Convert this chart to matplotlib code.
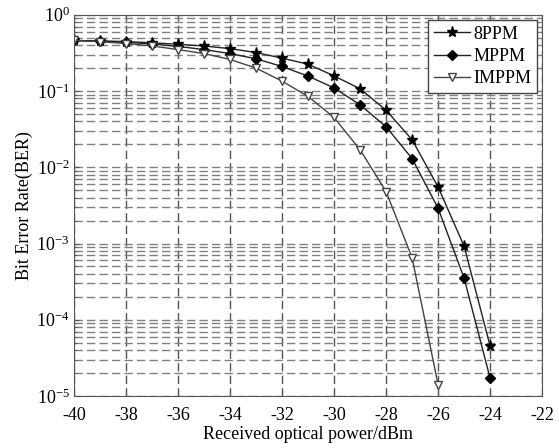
import numpy as np
import matplotlib
matplotlib.use("Agg")
import matplotlib.pyplot as plt
from matplotlib.ticker import LogLocator, NullFormatter

plt.rcParams['font.family'] = ['Liberation Serif', 'DejaVu Serif']
plt.rcParams['mathtext.fontset'] = 'stix'
plt.rcParams['axes.unicode_minus'] = False

# received optical power (dBm)
x_8ppm = list(range(-40, -23))
x_mppm = list(range(-40, -23))
x_imppm = list(range(-40, -25))

ber_8ppm = [0.46, 0.455, 0.445, 0.43, 0.41, 0.39, 0.36, 0.32, 0.27, 0.225,
            0.158, 0.107, 0.056, 0.023, 0.0055, 9.2e-4, 4.5e-5]
ber_mppm = [0.46, 0.45, 0.435, 0.415, 0.385, 0.35, 0.31, 0.265, 0.21, 0.157,
            0.11, 0.066, 0.034, 0.013, 0.0029, 3.5e-4, 1.7e-5]
ber_imppm = [0.46, 0.445, 0.42, 0.39, 0.35, 0.31, 0.26, 0.2, 0.135, 0.085,
             0.045, 0.017, 0.0048, 6.5e-4, 1.4e-5]

fig = plt.figure(figsize=(5.59, 4.48), dpi=100)
ax = fig.add_axes([0.132, 0.116, 0.838, 0.851])

ax.semilogy(x_8ppm, ber_8ppm, '-*', color='#222222', lw=1.0,
            ms=8, mfc='black', mec='black', label='8PPM')
ax.semilogy(x_mppm, ber_mppm, '-D', color='#222222', lw=1.0,
            ms=5, mfc='black', mec='black', label='MPPM')
ax.semilogy(x_imppm, ber_imppm, '-v', color='#444444', lw=1.0,
            ms=6, mfc='white', mec='#444444', label='IMPPM')

ax.set_xlim(-40, -22)
ax.set_ylim(1e-5, 1)
ax.set_xticks(range(-40, -21, 2))
ax.yaxis.set_major_locator(LogLocator(base=10, numticks=10))
ax.yaxis.set_minor_locator(LogLocator(base=10, subs=np.arange(2, 10), numticks=10))
ax.yaxis.set_minor_formatter(NullFormatter())

ax.grid(True, which='major', axis='x', ls=(0, (6, 3)), color='#555555', lw=1.0)
ax.grid(True, which='both', axis='y', ls=(0, (6, 3)), color='#808080', lw=1.0)

for s in ax.spines.values():
    s.set_color('#555555')
ax.tick_params(labelsize=13, direction='in', color='#555555')
ax.tick_params(axis='x', pad=8)
ax.tick_params(axis='y', pad=3)
ax.tick_params(which='minor', direction='in', color='#555555')

ax.set_xlabel('Received optical power/dBm', fontsize=13, labelpad=1)
ax.set_ylabel('Bit Error Rate(BER)', fontsize=13, labelpad=2)

leg = ax.legend(loc='upper right', fontsize=13, fancybox=False, framealpha=1,
                edgecolor='#444444', handlelength=2.0, borderpad=0.3,
                labelspacing=0.3, handletextpad=0.2, borderaxespad=0.3)
leg.get_frame().set_linewidth(1.0)

fig.savefig('out.png', dpi=100)
